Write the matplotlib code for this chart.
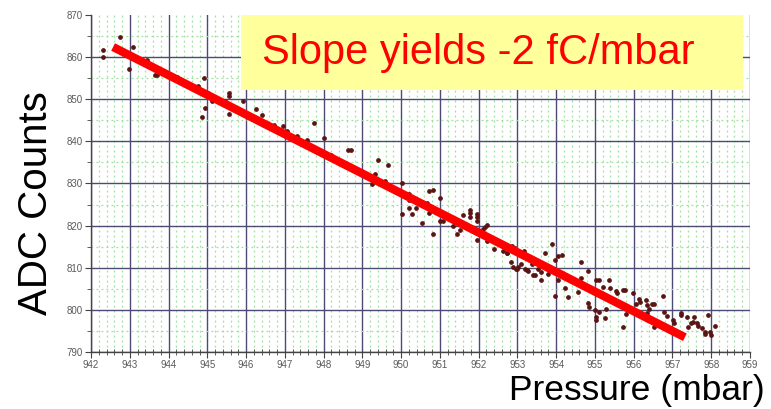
import matplotlib
matplotlib.use("Agg")
import matplotlib.pyplot as plt
from matplotlib.patches import Rectangle
from matplotlib.ticker import MultipleLocator
import numpy as np

plt.rcParams['font.family'] = ['Liberation Sans', 'DejaVu Sans']

# pressure (mbar) vs ADC counts readings
pressure = [
    942.30, 942.30, 942.74, 942.99, 943.09, 943.45, 943.64, 943.70, 944.22, 944.76,
    944.86, 944.92, 944.93, 945.02, 945.12, 945.46, 945.55, 945.55, 945.55, 945.91,
    946.26, 946.42, 946.71, 946.96, 947.05, 947.31, 947.57, 947.74, 948.01, 948.19,
    948.64, 948.71, 949.24, 949.33, 949.41, 949.58, 949.67, 950.02, 950.02, 950.20,
    950.20, 950.20, 950.29, 950.38, 950.55, 950.66, 950.73, 950.81, 950.73, 950.81,
    951.00, 951.00, 951.08, 951.35, 951.43, 951.52, 951.60, 951.78, 951.78, 951.78,
    951.95, 951.95, 951.96, 951.95, 952.12, 952.21, 952.17, 952.22, 952.40, 952.63,
    952.72, 952.74, 952.85, 952.94, 952.83, 952.89, 952.96, 953.02, 953.08, 952.98,
    953.17, 953.19, 953.25, 953.28, 953.37, 953.41, 953.45, 953.54, 953.60, 953.62,
    953.71, 953.79, 953.88, 953.97, 953.97, 954.05, 954.14, 954.05, 954.22, 954.31,
    954.57, 954.65, 954.65, 954.82, 954.82, 954.84, 954.99, 955.04, 955.02, 955.11,
    955.02, 955.11, 955.20, 955.28, 955.27, 955.37, 955.38, 955.55, 955.57, 955.73,
    955.77, 955.73, 955.80, 955.99, 956.07, 956.14, 956.16, 956.31, 956.35, 956.40,
    956.46, 956.52, 956.37, 956.35, 956.43, 956.52, 956.76, 956.78, 956.85, 957.02,
    957.03, 957.21, 957.22, 957.38, 957.40, 957.47, 957.52, 957.55, 957.63, 957.67,
    957.75, 957.83, 957.84, 957.92, 957.98, 958.00, 958.09,
]
counts = [
    861.6, 860.0, 864.7, 857.2, 862.5, 859.3, 855.7, 855.7, 855.2, 853.2,
    845.7, 855.0, 848.0, 851.4, 849.6, 849.6, 851.5, 850.8, 846.4, 849.6,
    847.6, 846.3, 844.0, 843.6, 842.4, 841.3, 840.4, 844.3, 840.8, 836.8,
    838.0, 838.0, 829.9, 832.2, 835.6, 830.6, 834.4, 830.1, 822.7, 827.6,
    826.0, 824.3, 822.7, 824.2, 820.7, 825.3, 828.2, 828.4, 823.0, 817.9,
    826.5, 821.1, 821.1, 820.0, 818.1, 818.9, 822.5, 823.8, 822.9, 822.1,
    822.7, 822.1, 821.1, 816.7, 819.3, 820.1, 819.7, 816.3, 814.4, 814.0,
    813.6, 813.4, 815.1, 814.6, 811.4, 810.2, 809.8, 810.1, 811.0, 809.6,
    813.9, 809.8, 809.4, 809.3, 811.0, 808.2, 808.2, 809.8, 809.0, 807.0,
    813.5, 808.4, 815.6, 811.8, 803.3, 812.8, 813.0, 807.2, 805.3, 803.1,
    804.3, 811.3, 807.6, 809.3, 801.7, 800.7, 800.0, 798.3, 797.5, 799.5,
    807.2, 807.2, 805.5, 800.3, 798.0, 807.0, 805.1, 804.4, 803.9, 804.7,
    804.8, 796.0, 799.1, 803.9, 801.4, 802.7, 801.9, 802.3, 801.1, 800.1,
    801.5, 801.3, 797.7, 799.3, 797.5, 796.0, 803.3, 799.5, 798.5, 797.6,
    796.8, 799.3, 798.7, 798.3, 796.0, 796.8, 797.1, 798.3, 796.8, 796.2,
    795.8, 794.8, 794.2, 798.9, 794.8, 794.0, 796.2,
]

# fitted line end points
fit_p = [942.57, 957.32]
fit_c = [862.4, 793.5]

xticks = list(range(942, 960))
yticks = list(range(790, 880, 10))

fig = plt.figure(figsize=(7.71, 4.09), dpi=100)
ax = fig.add_axes([91 / 771, 1 - 352 / 409, 659 / 771, 337 / 409])

ax.set_xlim(942, 959)
ax.set_ylim(790, 870)
ax.set_xticks(xticks)
ax.set_yticks(yticks)
ax.xaxis.set_minor_locator(MultipleLocator(0.2))
ax.yaxis.set_minor_locator(MultipleLocator(5))

ax.grid(which='minor', color='#9ee09e', linestyle=(0, (1.5, 2.5)), linewidth=0.9)
ax.grid(which='major', color='#4c4c72', linestyle='-', linewidth=1.0)
ax.yaxis.get_gridlines()[-1].set_visible(False)
ax.set_axisbelow(True)

for s in ['top', 'right']:
    ax.spines[s].set_visible(False)
for s in ['left', 'bottom']:
    ax.spines[s].set_color('#444444')
    ax.spines[s].set_linewidth(1.0)

ax.tick_params(which='major', direction='out', length=4, color='#444444',
               labelsize=7, labelcolor='#5a5a5a', pad=2)
ax.tick_params(axis='x', which='minor', direction='inout', length=4, color='#444444')
ax.tick_params(axis='y', which='minor', direction='out', length=3, color='#444444')

ax.plot(pressure, counts, 'o', color='#5a1414', markersize=2.4, zorder=3)
ax.plot(fit_p, fit_c, color='#ff0000', linewidth=6, solid_capstyle='butt', zorder=4)

# annotation box
fig.patches.append(Rectangle((241 / 771, 1 - 90 / 409), 502 / 771, 75 / 409,
                             transform=fig.transFigure, facecolor='#ffff9c',
                             edgecolor='none', zorder=5))
fig.text(262 / 771, 1 - 53 / 409, 'Slope yields -2 fC/mbar', color='#ff0000',
         fontsize=30, ha='left', va='center', zorder=6)

fig.text(36 / 771, 1 - 203 / 409, 'ADC Counts', rotation=90, fontsize=29,
         ha='center', va='center', color='black')
fig.text(765 / 771, 1 - 400 / 409, 'Pressure (mbar)', fontsize=25.5,
         ha='right', va='baseline', color='black')

fig.savefig('out.png', dpi=100)
